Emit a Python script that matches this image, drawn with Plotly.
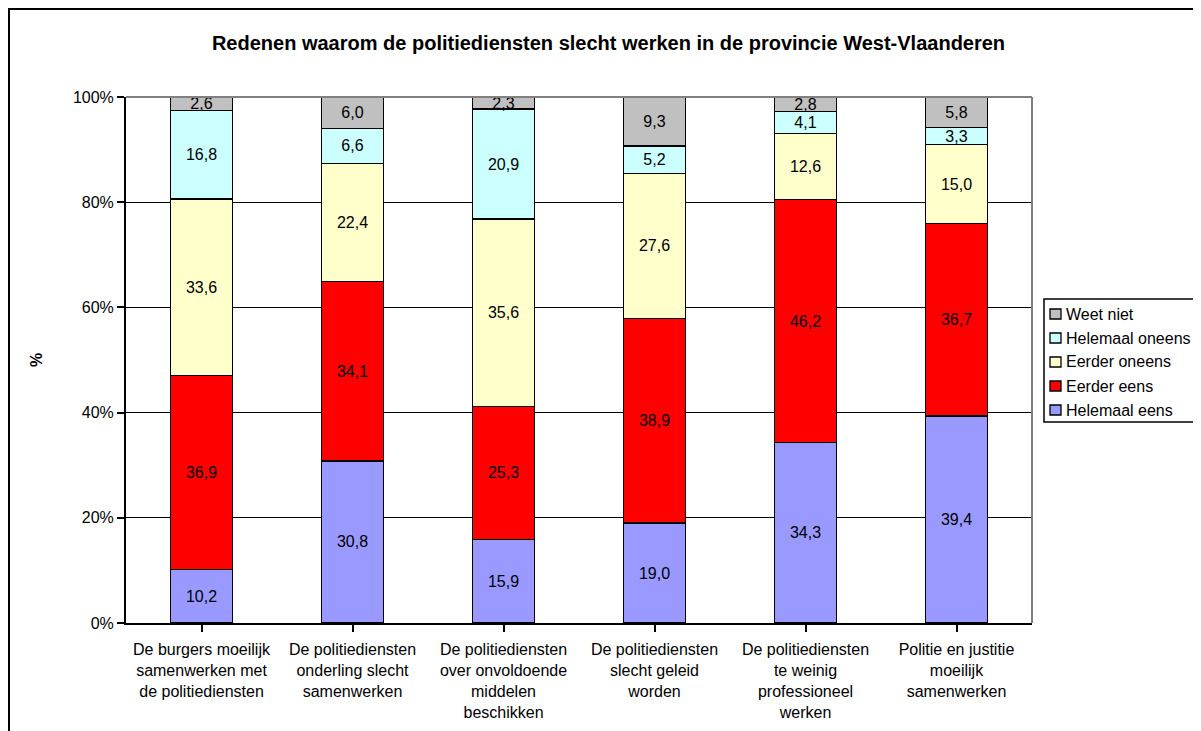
import plotly.graph_objects as go

categories = [
    "De burgers moeilijk<br>samenwerken met<br>de politiediensten",
    "De politiediensten<br>onderling slecht<br>samenwerken",
    "De politiediensten<br>over onvoldoende<br>middelen<br>beschikken",
    "De politiediensten<br>slecht geleid<br>worden",
    "De politiediensten<br>te weinig<br>professioneel<br>werken",
    "Politie en justitie<br>moeilijk<br>samenwerken",
]

helemaal_eens = [10.2, 30.8, 15.9, 19.0, 34.3, 39.4]
eerder_eens = [36.9, 34.1, 25.3, 38.9, 46.2, 36.7]
eerder_oneens = [33.6, 22.4, 35.6, 27.6, 12.6, 15.0]
helemaal_oneens = [16.8, 6.6, 20.9, 5.2, 4.1, 3.3]
weet_niet = [2.6, 6.0, 2.3, 9.3, 2.8, 5.8]

series_names = ["Helemaal eens", "Eerder eens", "Eerder oneens", "Helemaal oneens", "Weet niet"]
series_values = [helemaal_eens, eerder_eens, eerder_oneens, helemaal_oneens, weet_niet]
series_colors = ["#9999FF", "#FF0000", "#FFFFCC", "#CCFFFF", "#C0C0C0"]

y_tick_vals = [0, 20, 40, 60, 80, 100]
y_tick_text = ["0%", "20%", "40%", "60%", "80%", "100%"]

FONT = "Liberation Sans, Arial, sans-serif"
FS = 16

fig = go.Figure()
for name, vals, col in zip(series_names, series_values, series_colors):
    fig.add_trace(go.Bar(
        name=name,
        x=list(range(len(categories))),
        y=vals,
        marker=dict(color=col, line=dict(color="black", width=1.4)),
        text=[f"{v:.1f}".replace(".", ",") for v in vals],
        textposition="inside",
        insidetextanchor="middle",
        textangle=0,
        textfont=dict(family=FONT, size=FS, color="black"),
        hoverinfo="skip",
        showlegend=False,
    ))

W, H = 1201, 731
L, R, T, B = 118, 1024, 89, 615
pw, ph = R - L, B - T

def px_x(p):
    return (p - L) / pw

def px_y(p):
    return (B - p) / ph

shapes = [
    # plot area border (top and right, grey)
    dict(type="line", xref="paper", yref="paper", x0=0, x1=1, y0=1, y1=1,
         line=dict(color="#808080", width=2), layer="above"),
    dict(type="line", xref="paper", yref="paper", x0=1, x1=1, y0=0, y1=1,
         line=dict(color="#808080", width=2), layer="above"),
    # outer chart border
    dict(type="rect", xref="paper", yref="paper",
         x0=px_x(1), x1=px_x(1215), y0=px_y(1), y1=px_y(745),
         line=dict(color="black", width=2), fillcolor="rgba(0,0,0,0)",
         layer="above"),
    # legend box
    dict(type="rect", xref="paper", yref="paper",
         x0=px_x(1036), x1=px_x(1190), y0=px_y(291), y1=px_y(414),
         line=dict(color="black", width=1.5), fillcolor="white", layer="above"),
]
annotations = []

# custom legend (Weet niet on top, reverse of stacking order)
leg_order = list(range(len(series_names)))[::-1]
for i, k in enumerate(leg_order):
    cy = 306 + 24 * i
    shapes.append(dict(type="rect", xref="paper", yref="paper",
                       x0=px_x(1042), x1=px_x(1053),
                       y0=px_y(cy - 5), y1=px_y(cy + 5),
                       line=dict(color="black", width=1.3),
                       fillcolor=series_colors[k], layer="above"))
    annotations.append(dict(xref="paper", yref="paper",
                            x=px_x(1056), y=px_y(cy),
                            xanchor="left", yanchor="middle",
                            text=series_names[k], showarrow=False,
                            font=dict(family=FONT, size=FS, color="black")))

fig.update_layout(
    width=W, height=H,
    barmode="stack",
    barnorm="percent",
    bargap=0.59,
    plot_bgcolor="white",
    paper_bgcolor="white",
    margin=dict(l=L, r=W - R, t=T, b=H - B, autoexpand=False),
    font=dict(family=FONT, size=FS, color="black"),
    uniformtext=dict(minsize=FS, mode="show"),
    showlegend=False,
    title=dict(
        text="<b>Redenen waarom de politiediensten slecht werken in de provincie West-Vlaanderen</b>",
        x=0.5, xref="container", xanchor="center",
        y=1 - 35 / H, yref="container", yanchor="middle",
        font=dict(family=FONT, size=20, color="black"),
    ),
    xaxis=dict(
        tickmode="array",
        tickvals=list(range(len(categories))),
        ticktext=categories,
        range=[-0.5, len(categories) - 0.5],
        tickson="boundaries",
        ticks="outside", ticklen=7, tickcolor="black", tickwidth=1.5,
        ticklabelstandoff=4,
        showline=True, linecolor="black", linewidth=2,
        showgrid=False, zeroline=False,
        tickfont=dict(family=FONT, size=FS, color="black"),
        tickangle=0,
    ),
    yaxis=dict(
        range=[0, 100],
        tickmode="array",
        tickvals=y_tick_vals,
        ticktext=y_tick_text,
        ticks="outside", ticklen=7, tickcolor="black", tickwidth=1.5,
        showline=True, linecolor="black", linewidth=2,
        showgrid=True, gridcolor="black", gridwidth=1,
        zeroline=False,
        tickfont=dict(family=FONT, size=FS, color="black"),
        title=dict(text="<b>%</b>", standoff=26,
                   font=dict(family=FONT, size=FS, color="black")),
    ),
    shapes=shapes,
    annotations=annotations,
)

fig.write_html("out.html")
